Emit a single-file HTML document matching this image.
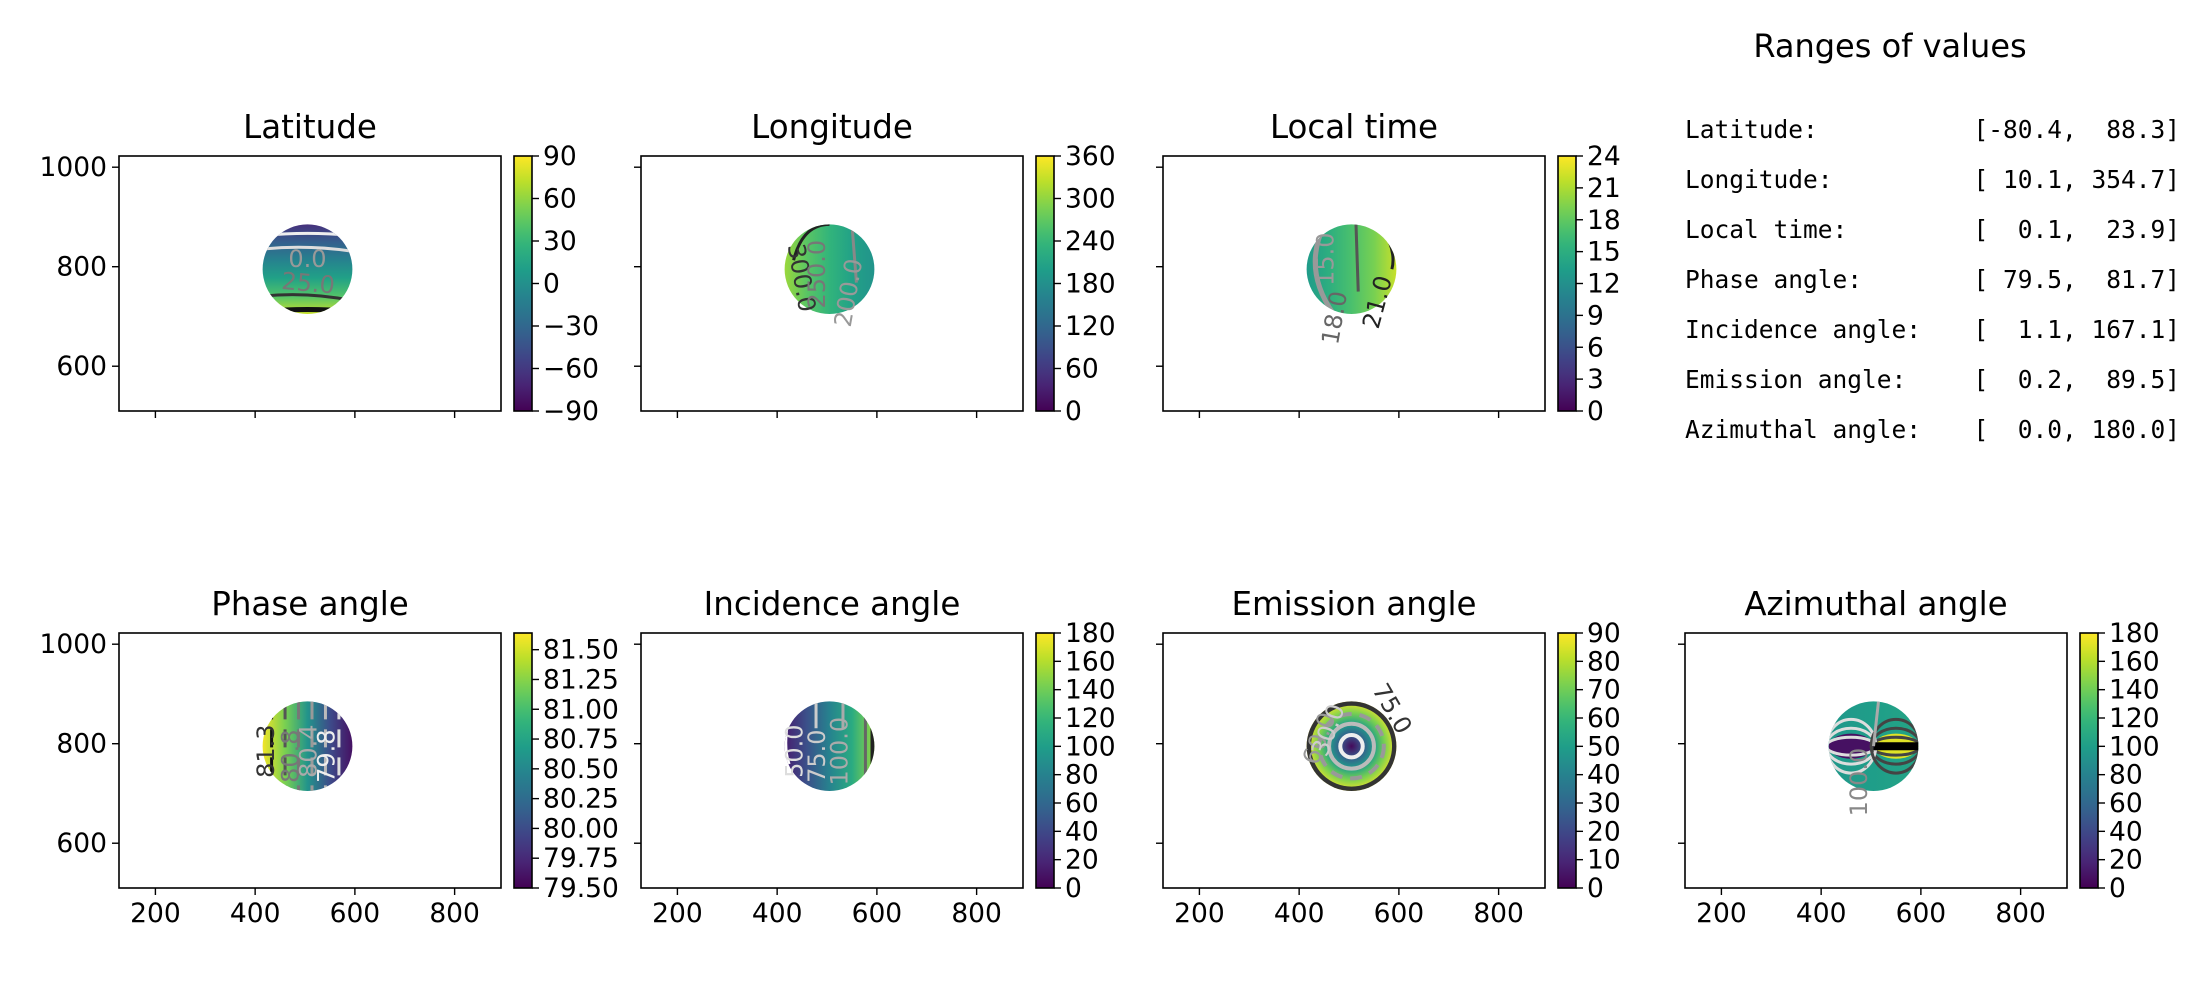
<!DOCTYPE html>
<html><head><meta charset="utf-8">
<style>
html,body{margin:0;padding:0;background:#fff;}
svg{display:block;font-family:"DejaVu Sans","Liberation Sans",sans-serif;}
.mono{font-family:"DejaVu Sans Mono","Liberation Mono",monospace;}
</style></head>
<body>
<svg id="fig" width="2200" height="1000" viewBox="0 0 2200 1000" xmlns="http://www.w3.org/2000/svg">
<defs id="defs"></defs>
<text x="1890" y="57" font-size="32" text-anchor="middle">Ranges of values</text>
<g id="ranges" class="mono" font-size="24.5"></g>
</svg>
<script>
// ---- data ----
const xlim = [127, 893];
const ylim = [510, 1022.5];
const xTicks = [200, 400, 600, 800];
const yTicks = [600, 800, 1000];
const diskCenter = [505, 795];
const diskRadius = 90;
const titles = ["Latitude","Longitude","Local time","Phase angle","Incidence angle","Emission angle","Azimuthal angle"];
const cbarMin = [-90, 0, 0, 79.5, 0, 0, 0];
const cbarMax = [90, 360, 24, 81.64, 180, 90, 180];
const cbarTicks = [
  [-90,-60,-30,0,30,60,90],
  [0,60,120,180,240,300,360],
  [0,3,6,9,12,15,18,21,24],
  [79.5,79.75,80,80.25,80.5,80.75,81,81.25,81.5],
  [0,20,40,60,80,100,120,140,160,180],
  [0,10,20,30,40,50,60,70,80,90],
  [0,20,40,60,80,100,120,140,160,180]
];
const cbarDecimals = [0,0,0,2,0,0,0];
// disk value profiles (sampled along gradient direction)
const latProfile = [-65,-35,-10,12,40,75];
const lonProfile = [305,265,235,205,185];
const ltProfile = [13,15,17,19,22];
const phaseProfile = [81.6,81.2,80.6,80.0,79.6];
const incProfile = [15,45,80,110,150];
const emiProfile = [2,25,50,72,88];
const aziBase = [95,100,105];
const aziLobes = [8,172];
const rangeNames = ["Latitude:","Longitude:","Local time:","Phase angle:","Incidence angle:","Emission angle:","Azimuthal angle:"];
const rangeValues = ["[-80.4,  88.3]","[ 10.1, 354.7]","[  0.1,  23.9]","[ 79.5,  81.7]","[  1.1, 167.1]","[  0.2,  89.5]","[  0.0, 180.0]"];

// ---- layout ----
const W = 382, H = 255;
const panelPos = [[119,156],[641,156],[1163,156],[119,633],[641,633],[1163,633],[1685,633]];
const showX = [false,false,false,true,true,true,true];
const showY = [true,false,false,true,false,false,false];
const profiles = [latProfile,lonProfile,ltProfile,phaseProfile,incProfile,emiProfile,aziBase];
const gradDir = [[0,0,0,1],[0,0,1,0],[0,0,1,0],[0,0,1,0],[0,0,1,0],null,[0,0,1,0]];

const VIR = ["#440154","#482878","#3e4989","#31688e","#26828e","#1f9e89","#35b779","#6ece58","#b5de2b","#fde725"];
function hex(c){return [parseInt(c.slice(1,3),16),parseInt(c.slice(3,5),16),parseInt(c.slice(5,7),16)];}
function viridis(t){t=Math.max(0,Math.min(1,t));const p=t*(VIR.length-1);const i=Math.min(VIR.length-2,Math.floor(p));const f=p-i;const a=hex(VIR[i]),b=hex(VIR[i+1]);return "rgb("+a.map((v,k)=>Math.round(v+(b[k]-v)*f)).join(",")+")";}

const NS="http://www.w3.org/2000/svg";
const fig=document.getElementById("fig");
const defs=document.getElementById("defs");
function el(tag,attrs,parent){const e=document.createElementNS(NS,tag);for(const k in attrs)e.setAttribute(k,attrs[k]);(parent||fig).appendChild(e);return e;}
function fmt(v,d){let s=v.toFixed(d);return s.replace("-","\u2212");}

const cg=el("linearGradient",{id:"cbg",x1:0,y1:1,x2:0,y2:0},defs);
for(let i=0;i<=20;i++)el("stop",{offset:i/20,"stop-color":viridis(i/20)},cg);

titles.forEach((title,p)=>{
  const [L,T]=panelPos[p];
  const sx=v=>L+(v-xlim[0])/(xlim[1]-xlim[0])*W;
  const sy=v=>T+H-(v-ylim[0])/(ylim[1]-ylim[0])*H;
  const vmin=cbarMin[p],vmax=cbarMax[p];
  const norm=v=>(v-vmin)/(vmax-vmin);
  const g=el("g",{});
  
  
  const tt=el("text",{x:L+W/2,y:T-18,"font-size":32.5,"text-anchor":"middle"},g);
  tt.textContent=title;
  
  
  const cx=sx(diskCenter[0]),cy=sy(diskCenter[1]);
  const r=diskRadius*W/(xlim[1]-xlim[0]);
  const ry=diskRadius*H/(ylim[1]-ylim[0]);
  const gid="dg"+p;
  let grad;
  if(gradDir[p]){const d=gradDir[p];grad=el("linearGradient",{id:gid,x1:d[0],y1:d[1],x2:d[2],y2:d[3]},defs);}
  else grad=el("radialGradient",{id:gid,cx:0.5,cy:0.5,r:0.5},defs);
  const prof=profiles[p];
  prof.forEach((v,i)=>el("stop",{offset:i/(prof.length-1),"stop-color":viridis(norm(v))},grad));
  const cp=el("clipPath",{id:"cp"+p},defs);
  el("ellipse",{cx:cx,cy:cy,rx:r,ry:ry},cp);
  const disk=el("ellipse",{cx:cx,cy:cy,rx:r,ry:ry,fill:"url(#"+gid+")"},g);
  
  
  const cg2=el("g",{"clip-path":"url(#cp"+p+")",fill:"none","stroke-width":3},g);
  
  
  const lab=(txt,x,y,rot,col)=>{const t=el("text",{x:x,y:y,"font-size":24,fill:col,"text-anchor":"middle",transform:"rotate("+rot+" "+x+" "+y+")"},g);t.textContent=txt;};
  if(p===0){
    el("path",{d:`M${cx-r} ${cy-ry*0.75} Q${cx} ${cy-ry*0.85} ${cx+r} ${cy-ry*0.75}`,stroke:"#eee"},cg2);
    el("path",{d:`M${cx-r} ${cy-ry*0.45} Q${cx} ${cy-ry*0.55} ${cx+r} ${cy-ry*0.4}`,stroke:"#ddd"},cg2);
    el("path",{d:`M${cx-r} ${cy+ry*0.6} Q${cx} ${cy+ry*0.5} ${cx+r} ${cy+ry*0.7}`,stroke:"#333"},cg2);
    el("path",{d:`M${cx-r} ${cy+ry*0.95} Q${cx} ${cy+ry*0.85} ${cx+r} ${cy+ry*0.95}`,stroke:"#111","stroke-width":5},cg2);
    lab("0.0",cx,cy-2,0,"#999");lab("25.0",cx,cy+22,5,"#777");
  } else if(p===1){
    el("path",{d:`M${cx-r*0.8} ${cy-ry*0.2} Q${cx-r*0.6} ${cy-ry} ${cx} ${cy-ry}`,stroke:"#222"},cg2);
    el("path",{d:`M${cx+r*0.5} ${cy-ry} L${cx+r*0.6} ${cy+ry*0.3}`,stroke:"#888"},cg2);
    lab("300.0",cx-r*0.8,cy+10,80,"#333");lab("250.0",cx-r*0.1,cy+5,-90,"#777");lab("200.0",cx+r*0.6,cy+25,-80,"#999");
  } else if(p===2){
    el("path",{d:`M${cx-r*0.6} ${cy-ry} Q${cx-r*1.1} ${cy} ${cx-r*0.4} ${cy+ry}`,stroke:"#999","stroke-width":5},cg2);
    el("path",{d:`M${cx+r*0.1} ${cy-ry} L${cx+r*0.15} ${cy+ry*0.5}`,stroke:"#555"},cg2);
    el("path",{d:`M${cx+r*0.7} ${cy-ry*0.9} Q${cx+r} ${cy-ry*0.4} ${cx+r*0.9} ${cy}`,stroke:"#222"},cg2);
    lab("15.0",cx-r*0.4,cy-10,-90,"#999");lab("18.0",cx-r*0.2,cy+50,-80,"#666");lab("21.0",cx+r*0.75,cy+35,-75,"#222");
  } else if(p===3){
    [-0.8,-0.5,-0.2,0.1,0.4,0.7].forEach((f,i)=>el("path",{d:`M${cx+f*r} ${cy-ry} L${cx+f*r} ${cy+ry}`,stroke:["#111","#555","#777","#999","#bbb","#ddd"][i],"stroke-dasharray":"18 10"},cg2));
    lab("81.3",cx-r*0.75,cy+5,-90,"#333");lab("80.8",cx-r*0.2,cy+10,-90,"#777");lab("80.4",cx+r*0.2,cy+5,-90,"#aaa");lab("79.8",cx+r*0.6,cy+10,-90,"#eee");
  } else if(p===4){
    el("path",{d:`M${cx-r*0.9} ${cy-ry*0.7} Q${cx-r*1.05} ${cy} ${cx-r*0.9} ${cy+ry*0.4}`,stroke:"#fff"},cg2);
    el("path",{d:`M${cx-r*0.3} ${cy-ry} L${cx-r*0.3} ${cy-ry*0.4}`,stroke:"#ccc"},cg2);
    el("path",{d:`M${cx+r*0.3} ${cy-ry} L${cx+r*0.3} ${cy-ry*0.4}`,stroke:"#aaa"},cg2);
    el("path",{d:`M${cx+r*0.8} ${cy-ry*0.8} L${cx+r*0.8} ${cy+ry*0.8}`,stroke:"#666"},cg2);
    el("path",{d:`M${cx+r*0.98} ${cy-ry*0.5} L${cx+r*0.98} ${cy+ry*0.5}`,stroke:"#222","stroke-width":6},cg2);
    lab("50.0",cx-r*0.6,cy+5,-90,"#ddd");lab("75.0",cx-r*0.1,cy+10,-90,"#ccc");lab("100.0",cx+r*0.4,cy+5,-90,"#aaa");
  } else if(p===5){
    [[0.25,"#eee"],[0.5,"#bbb"],[0.72,"#999","12 8"],[0.97,"#333"]].forEach(([f,c,da])=>{const e=el("ellipse",{cx:cx,cy:cy,rx:r*f,ry:ry*f,stroke:c,"stroke-width":f>0.9?6:4},cg2);if(da)e.setAttribute("stroke-dasharray",da);});
    lab("75.0",cx+r*0.75,cy-ry*0.75,60,"#333");lab("60.0",cx-r*0.55,cy-5,-70,"#999");lab("30.0",cx-r*0.35,cy-ry*0.3,-70,"#ccc");
  } else if(p===6){
    const lf=el("ellipse",{cx:cx-r*0.5,cy:cy,rx:r*0.5,ry:ry*0.28,fill:viridis(norm(aziLobes[0]))},cg2);
    
    const rf=el("ellipse",{cx:cx+r*0.5,cy:cy,rx:r*0.5,ry:ry*0.28,fill:viridis(norm(aziLobes[1]))},cg2);
    
    [0.2,0.4,0.6].forEach(f=>{el("ellipse",{cx:cx-r*0.5,cy:cy,rx:r*0.55,ry:ry*f,stroke:"#ddd"},cg2);el("ellipse",{cx:cx+r*0.5,cy:cy,rx:r*0.55,ry:ry*f,stroke:"#444"},cg2);});
    el("path",{d:`M${cx} ${cy} L${cx+r} ${cy}`,stroke:"#000","stroke-width":8},cg2);
    el("path",{d:`M${cx+5} ${cy-ry} L${cx} ${cy}`,stroke:"#aaa"},cg2);
    lab("100.0",cx-r*0.15,cy+ry*0.8,-90,"#888");
  }
  const fr=el("rect",{x:L,y:T,width:W,height:H,fill:"none",stroke:"#000","stroke-width":1.6},g);
  
  
  xTicks.forEach(v=>{const x=sx(v);el("line",{x1:x,y1:T+H,x2:x,y2:T+H+7,stroke:"#000","stroke-width":1.4},g);
    if(showX[p]){const t=el("text",{x:x,y:T+H+34,"font-size":26.5,"text-anchor":"middle"},g);t.textContent=v;}});
  yTicks.forEach(v=>{const y=sy(v);el("line",{x1:L,y1:y,x2:L-7,y2:y,stroke:"#000","stroke-width":1.4},g);
    if(showY[p]){const t=el("text",{x:L-12,y:y+9,"font-size":26.5,"text-anchor":"end"},g);t.textContent=v;}});
  const CX=L+W+13,CW=18;
  const cb=el("rect",{x:CX,y:T,width:CW,height:H,fill:"url(#cbg)",stroke:"#000","stroke-width":1.6},g);
  
  
  cbarTicks[p].forEach(v=>{const y=T+H-norm(v)*H;el("line",{x1:CX+CW,y1:y,x2:CX+CW+7,y2:y,stroke:"#000","stroke-width":1.4},g);
    const t=el("text",{x:CX+CW+11,y:y+9,"font-size":26.5},g);t.textContent=fmt(v,cbarDecimals[p]);});
});

const rg=document.getElementById("ranges");
rangeNames.forEach((n,i)=>{const y=138+i*50;
  const a=el("text",{x:1685,y:y},rg);a.textContent=n;
  const b=el("text",{x:2180,y:y,"text-anchor":"end"},rg);b.setAttribute("style","white-space:pre");b.textContent=rangeValues[i];});
</script>
</body></html>
